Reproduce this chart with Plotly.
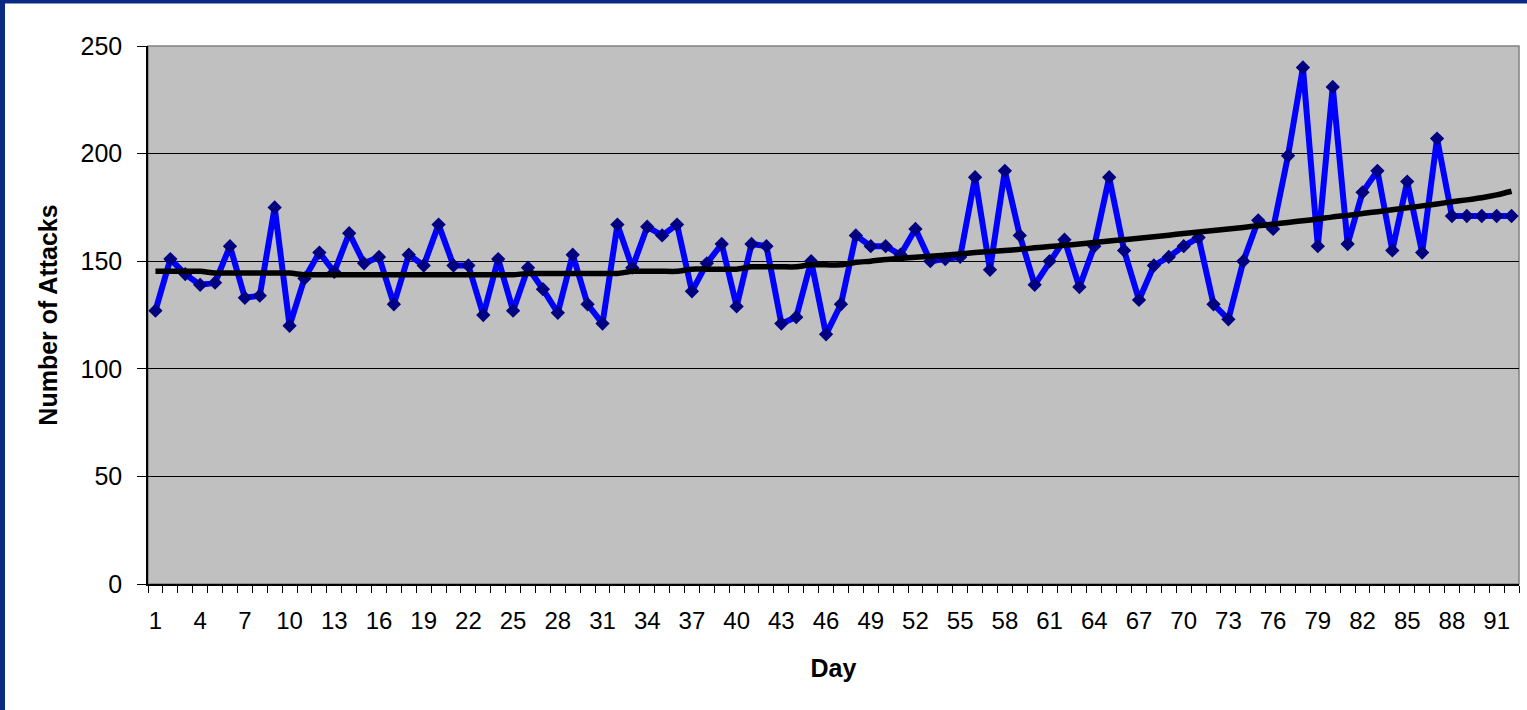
import plotly.graph_objects as go

days = list(range(1, 93))
attacks = [127, 151, 144, 139, 140, 157, 133, 134, 175, 120,
           142, 154, 145, 163, 149, 152, 130, 153, 148, 167,
           148, 148, 125, 151, 127, 147, 137, 126, 153, 130,
           121, 167, 147, 166, 162, 167, 136, 149, 158, 129,
           158, 157, 121, 124, 150, 116, 130, 162, 157, 157,
           153, 165, 150, 151, 152, 189, 146, 192, 162, 139,
           150, 160, 138, 157, 189, 155, 132, 148, 152, 157,
           161, 130, 123, 150, 169, 165, 199, 240, 157, 231,
           158, 182, 192, 155, 187, 154, 207, 171, 171, 171,
           171, 171]
trend = [145.3, 145.3, 145.3, 145.3, 144.5, 144.5, 144.5, 144.5, 144.5, 144.5,
         143.7, 143.7, 143.7, 143.7, 143.7, 143.7, 143.7, 143.7, 143.7, 143.7,
         143.7, 143.7, 143.7, 143.7, 143.7, 144.3, 144.3, 144.3, 144.3, 144.3,
         144.3, 144.3, 145.3, 145.3, 145.3, 145.3, 146.3, 146.3, 146.3, 146.3,
         147.4, 147.4, 147.4, 147.4, 148.3, 148.3, 148.3, 149.5, 150.0, 150.8,
         151.3, 151.8, 152.3, 152.8, 153.4, 154.0, 154.5, 155.0, 155.5, 156.2,
         156.8, 157.4, 158.0, 158.7, 159.4, 160.0, 160.7, 161.4, 162.1, 162.9,
         163.6, 164.3, 165.0, 165.7, 166.5, 167.2, 168.0, 168.8, 169.6, 170.6,
         171.3, 172.2, 173.0, 173.9, 174.8, 175.7, 176.6, 177.6, 178.5, 179.5,
         180.8, 182.5]
tick_labels = list(range(1, 93, 3))
y_ticks = [0, 50, 100, 150, 200, 250]

W, H = 1527, 710
L, R, T, B = 148, 8, 46, 126
pw = W - L - R
ph = H - T - B

fig = go.Figure()
fig.add_trace(go.Scatter(
    x=days, y=attacks, mode="lines+markers",
    line=dict(color="#0000FF", width=6),
    marker=dict(symbol="diamond", size=11, color="#000080",
                line=dict(width=0)),
    showlegend=False, hoverinfo="x+y"))
fig.add_trace(go.Scatter(
    x=days, y=trend, mode="lines",
    line=dict(color="#000000", width=5.5, shape="spline", smoothing=0.6),
    showlegend=False, hoverinfo="skip"))


def px_x(p):
    return (p - L) / pw


def px_y(p):
    return (H - B - p) / ph


shapes = [
    dict(type="rect", xref="paper", yref="paper", x0=0, x1=1, y0=0, y1=1,
         line=dict(color="#808080", width=1.5), layer="below"),
    dict(type="rect", xref="paper", yref="paper", x0=px_x(0), x1=px_x(5),
         y0=px_y(H), y1=px_y(0), fillcolor="#0A2A84", line=dict(width=0)),
    dict(type="rect", xref="paper", yref="paper", x0=px_x(0), x1=px_x(W),
         y0=px_y(3.5), y1=px_y(0), fillcolor="#0A2A84", line=dict(width=0)),
]

fig.update_layout(
    width=W, height=H,
    margin=dict(l=L, r=R, t=T, b=B),
    paper_bgcolor="white",
    plot_bgcolor="#C0C0C0",
    font=dict(family="Arial, Liberation Sans, sans-serif", color="black", size=24),
    shapes=shapes,
    xaxis=dict(
        range=[0.5, 92.5],
        tickmode="array", tickvals=tick_labels,
        ticktext=[str(v) for v in tick_labels],
        ticks="", showgrid=False, zeroline=False,
        showline=True, linecolor="black", linewidth=1.5,
        tickfont=dict(size=24),
        ticklabelstandoff=14,
        minor=dict(tickvals=[d + 0.5 for d in range(0, 93)], ticks="outside",
                   ticklen=7, tickcolor="black", tickwidth=1, showgrid=False),
        title=dict(text="<b>Day</b>", font=dict(size=25), standoff=27),
    ),
    yaxis=dict(
        range=[0, 250], tickmode="array", tickvals=y_ticks,
        ticks="outside", ticklen=9, tickcolor="black", tickwidth=1,
        showgrid=True, gridcolor="#000000", gridwidth=1,
        zeroline=False, showline=True, linecolor="black", linewidth=1.5,
        tickfont=dict(size=25),
        ticklabelstandoff=10,
        title=dict(text="<b>Number of Attacks</b>", font=dict(size=25), standoff=16),
    ),
)

fig.write_html("out.html", config={"displayModeBar": False},
               post_script="document.body.style.margin='0';document.body.style.overflow='hidden';")
